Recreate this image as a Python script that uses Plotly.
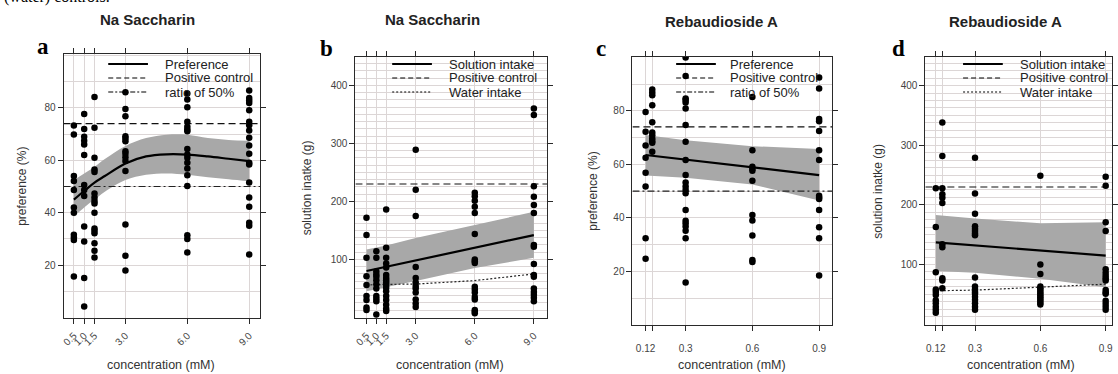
import plotly.graph_objects as go

W, H = 1118, 374
SANS = "Liberation Sans, Arial, sans-serif"
SERIF = "Liberation Serif, Times New Roman, serif"

# ---------------- data ----------------
# Panel a: Na Saccharin preference (%)
a_conc = [0.5, 1.0, 1.5, 3.0, 6.0, 9.0]
a_pref = [
    [73.3, 69.9, 54.0, 52.1, 48.7, 42.0, 40.0, 31.6, 30.5, 29.6, 15.6],
    [77.7, 72.0, 69.0, 67.5, 66.0, 62.0, 50.6, 48.7, 46.4, 34.7, 29.0, 15.1, 4.2],
    [84.2, 72.4, 61.0, 56.5, 55.5, 47.3, 45.8, 44.5, 43.5, 40.0, 34.0, 33.1, 32.2, 28.3, 25.5, 22.9],
    [86.0, 79.6, 76.8, 69.2, 68.3, 67.3, 63.5, 62.5, 61.2, 59.7, 55.9, 35.5, 23.6, 17.9],
    [85.5, 83.2, 80.3, 74.7, 72.8, 71.8, 71.1, 64.3, 62.2, 61.0, 59.1, 56.9, 54.3, 50.2, 31.4, 30.0, 24.8],
    [86.7, 83.8, 82.8, 81.9, 79.1, 74.7, 73.4, 71.4, 68.6, 65.7, 62.5, 59.1, 58.4, 51.5, 45.8, 42.3, 36.2, 35.0, 24.0],
]
a_fit_x = [0.5, 1.0, 1.5, 2.0, 3.0, 4.0, 5.0, 6.0, 7.0, 8.0, 9.0]
a_fit = [45.0, 48.3, 51.5, 54.0, 58.8, 61.5, 62.3, 62.2, 61.5, 60.6, 59.7]
a_upper = [52.5, 55.0, 57.5, 60.5, 65.5, 68.5, 69.8, 69.8, 68.5, 67.8, 67.5]
a_lower = [38.5, 42.0, 45.0, 48.0, 52.5, 54.5, 55.0, 54.5, 53.5, 52.8, 52.0]
a_ticktext = ["0.5", "1.0", "1.5", "3.0", "6.0", "9.0"]

# Panel b: Na Saccharin solution intake (g)
b_conc = [0.5, 1.0, 1.5, 3.0, 6.0, 9.0]
b_intake = [
    [172, 142, 103, 71, 56, 37, 30, 17, 13],
    [114, 103, 79, 74, 70, 64, 57, 50, 37, 32, 28, 5],
    [186, 120, 103, 93, 86, 73, 68, 64, 60, 56, 51, 45, 37, 30, 22, 15, 11],
    [289, 220, 175, 87, 68, 60, 54, 50, 43, 31, 24, 18],
    [215, 209, 201, 191, 180, 144, 100, 97, 94, 53, 48, 43, 35, 31, 13, 10, 7],
    [360, 349, 226, 208, 194, 180, 125, 122, 92, 73, 70, 50, 44, 39, 34, 28],
]
b_fit_x = [0.5, 9.0]
b_fit = [80, 142]
b_band_x = [0.5, 1.5, 3.0, 6.0, 9.0]
b_upper = [117, 124, 137, 160, 182]
b_lower = [45, 52, 63, 85, 103]
b_water_x = [0.5, 1.0, 1.5, 3.0, 6.0, 9.0]
b_water = [56, 57, 57, 57.5, 63.5, 75]

# Panel c: Rebaudioside A preference (%)
c_conc = [0.12, 0.15, 0.3, 0.6, 0.9]
c_pref = [
    [79.6, 72.2, 67.0, 62.5, 56.9, 51.7, 32.4, 24.7],
    [88.0, 86.8, 85.8, 82.1, 75.7, 71.9, 70.9, 69.7, 68.7, 68.1, 64.7],
    [99.9, 93.0, 84.6, 84.0, 83.1, 80.9, 74.7, 68.4, 61.6, 56.0, 53.2, 51.7, 50.4, 49.2, 43.0,
     38.9, 38.0, 36.8, 35.2, 32.4, 15.9],
    [85.2, 65.3, 59.1, 58.3, 57.6, 53.9, 41.1, 39.0, 33.4, 24.3, 23.5],
    [92.4, 88.3, 76.9, 76.1, 72.5, 65.3, 61.6, 48.3, 47.6, 47.1, 43.0, 36.5, 32.4, 18.5],
]
c_fit_x = [0.12, 0.9]
c_fit = [63.5, 56.0]
c_band_x = [0.12, 0.3, 0.6, 0.9]
c_upper = [71.0, 69.0, 66.8, 65.7]
c_lower = [55.8, 55.0, 52.5, 46.5]
c_ticktext = ["0.12", "", "0.3", "0.6", "0.9"]

# Panel d: Rebaudioside A solution intake (g)
d_conc = [0.12, 0.15, 0.3, 0.6, 0.9]
d_intake = [
    [228, 163, 87, 58, 54, 49, 40, 35, 29, 24, 19],
    [338, 282, 228, 218, 212, 203, 134, 129, 77, 73, 60],
    [279, 219, 185, 164, 160, 156, 152, 149, 78, 63, 58, 54, 51, 46, 41, 35, 29, 24],
    [249, 100, 84, 63, 60, 57, 54, 51, 48, 45, 42, 39, 36, 33],
    [247, 232, 171, 156, 92, 86, 81, 77, 73, 57, 53, 51, 39, 34, 29, 24],
]
d_fit_x = [0.12, 0.9]
d_fit = [137, 115]
d_band_x = [0.12, 0.3, 0.6, 0.9]
d_upper = [183, 177, 169, 171]
d_lower = [89, 86, 76, 62]
d_water_x = [0.12, 0.15, 0.3, 0.6, 0.9]
d_water = [56, 56, 57, 62, 67]

pref_control = 74
intake_control = 230
ratio_50 = 50

titles = ["Na Saccharin", "Na Saccharin", "Rebaudioside A", "Rebaudioside A"]
letters = ["a", "b", "c", "d"]
ytitles = ["preference (%)", "solution inatke (g)", "preference (%)", "solution inatke (g)"]
legend_pref = ["Preference", "Positive control", "ratio of 50%"]
legend_intake = ["Solution intake", "Positive control", "Water intake"]

# ---------------- styling / layout (pixels) ----------------
GRID = "#dcd6d6"
FRAME = "#2a2a2a"
BAND = "#a8a8a8"
PC_DASH = "7px,4px"
HALF_DASH = "7px,3px,2px,3px"
WATER_DASH = "2px,2px"

# plot boxes: left, right, top, bottom (px)
boxes = [(62, 260, 54, 318), (356, 549, 57, 318), (635, 836, 57, 325), (930, 1118, 57, 325)]
xranges = [[0.0, 9.53], [-0.06, 9.67], [0.061, 0.958], [0.072, 0.929]]
yranges = [[-0.2, 100.6], [-1, 449], [0, 100.1], [-1.5, 448]]
title_pos = [(147, 20), (434, 20), (725, 21), (1011, 21)]
letter_pos = [(41, 61), (327, 63), (603, 63), (903, 63)]
ytitle_x = [20, 307, 595, 882]
xtitle_x = [160, 451, 735, 1026]
leg_line = [(107, 147, 162), (393, 433, 448), (679, 719, 731), (968, 1008, 1023)]
leg_rows = [64, 78, 92]


def px(x):
    return x / W


def py(y):
    return 1 - y / H


fig = go.Figure()


def flat(conc, vals):
    xs, ys = [], []
    for c, v in zip(conc, vals):
        xs += [c] * len(v)
        ys += list(v)
    return xs, ys


def add_panel(i, conc, vals, fit_x, fit_y, band_x, up, lo, pc, third_x, third_y, third_dash, spline):
    xa = "x" if i == 0 else f"x{i+1}"
    ya = "y" if i == 0 else f"y{i+1}"
    shape = "spline" if spline else "linear"
    xr = xranges[i]
    common = dict(xaxis=xa, yaxis=ya, showlegend=False, hoverinfo="skip")
    fig.add_trace(go.Scatter(x=band_x, y=lo, mode="lines", line=dict(width=0, shape=shape), **common))
    fig.add_trace(go.Scatter(x=band_x, y=up, mode="lines", line=dict(width=0, shape=shape),
                             fill="tonexty", fillcolor=BAND, **common))
    fig.add_trace(go.Scatter(x=[xr[0], xr[1]], y=[pc, pc], mode="lines",
                             line=dict(color="#111", width=1.2, dash=PC_DASH), **common))
    fig.add_trace(go.Scatter(x=third_x, y=third_y, mode="lines",
                             line=dict(color="#222", width=1.2, dash=third_dash), **common))
    fig.add_trace(go.Scatter(x=fit_x, y=fit_y, mode="lines",
                             line=dict(color="black", width=2.2, shape=shape), **common))
    xs, ys = flat(conc, vals)
    fig.add_trace(go.Scatter(x=xs, y=ys, mode="markers",
                             marker=dict(color="black", size=6.5, line=dict(width=0)), **common))


add_panel(0, a_conc, a_pref, a_fit_x, a_fit, a_fit_x, a_upper, a_lower, pref_control,
          xranges[0], [ratio_50, ratio_50], HALF_DASH, True)
add_panel(1, b_conc, b_intake, b_fit_x, b_fit, b_band_x, b_upper, b_lower, intake_control,
          b_water_x, b_water, WATER_DASH, False)
add_panel(2, c_conc, c_pref, c_fit_x, c_fit, c_band_x, c_upper, c_lower, pref_control,
          xranges[2], [ratio_50, ratio_50], HALF_DASH, False)
add_panel(3, d_conc, d_intake, d_fit_x, d_fit, d_band_x, d_upper, d_lower, intake_control,
          d_water_x, d_water, WATER_DASH, False)

tickvals_x = [a_conc, b_conc, c_conc, d_conc]
ticktext_x = [a_ticktext, a_ticktext, c_ticktext, c_ticktext]
tickangles = [-45, -45, 0, 0]

layout = dict(
    width=W, height=H, margin=dict(l=0, r=0, t=0, b=0),
    paper_bgcolor="white", plot_bgcolor="white",
    font=dict(family=SANS, color="#333"),
    showlegend=False,
)

for i in range(4):
    l, r, t, b = boxes[i]
    xk = "xaxis" if i == 0 else f"xaxis{i+1}"
    yk = "yaxis" if i == 0 else f"yaxis{i+1}"
    ya = "y" if i == 0 else f"y{i+1}"
    xa = "x" if i == 0 else f"x{i+1}"
    layout[xk] = dict(
        domain=[px(l), min(px(r), 1.0)], range=xranges[i], anchor=ya,
        tickmode="array", tickvals=tickvals_x[i], ticktext=ticktext_x[i], tickangle=tickangles[i],
        showgrid=True, gridcolor=GRID, gridwidth=1, zeroline=False,
        showline=True, linecolor=FRAME, linewidth=1, mirror="allticks",
        ticks="outside", ticklen=5, tickcolor=FRAME, tickwidth=1,
        tickfont=dict(size=10, color="#444", family=SANS),
        ticklabelstandoff=(2 if i < 2 else 9),
    )
    intake = i in (1, 3)
    layout[yk] = dict(
        domain=[py(b), py(t)], range=yranges[i], anchor=xa,
        tickmode="array",
        tickvals=[100, 200, 300, 400] if intake else [20, 40, 60, 80],
        showgrid=True, gridcolor=GRID, gridwidth=1, zeroline=False,
        minor=dict(tick0=0, dtick=12.5 if intake else 10, showgrid=True, gridcolor=GRID, gridwidth=1, ticks=""),
        showline=True, linecolor=FRAME, linewidth=1, mirror="allticks",
        ticks="outside", ticklen=5, tickcolor=FRAME, tickwidth=1,
        tickfont=dict(size=10, color="#444", family=SANS),
    )

fig.update_layout(**layout)

annotations = []
shapes = []
for i in range(4):
    tx, ty = title_pos[i]
    annotations.append(dict(x=px(tx), y=py(ty), xref="paper", yref="paper", text=f"<b>{titles[i]}</b>",
                            showarrow=False, xanchor="center", yanchor="middle",
                            font=dict(size=15, color="#222", family=SANS)))
    lx, ly = letter_pos[i]
    annotations.append(dict(x=px(lx), y=py(ly), xref="paper", yref="paper", text=f"<b>{letters[i]}</b>",
                            showarrow=False, xanchor="center", yanchor="bottom",
                            font=dict(size=23, color="black", family=SERIF)))
    l, r, t, b = boxes[i]
    annotations.append(dict(x=px(ytitle_x[i]), y=py((t + b) / 2), xref="paper", yref="paper",
                            text=ytitles[i], textangle=-90, showarrow=False,
                            xanchor="center", yanchor="middle",
                            font=dict(size=12, color="#333", family=SANS)))
    annotations.append(dict(x=px(xtitle_x[i]), y=py(365), xref="paper", yref="paper",
                            text="concentration (mM)", showarrow=False,
                            xanchor="center", yanchor="middle",
                            font=dict(size=12.5, color="#333", family=SANS)))
    labels = legend_intake if i in (1, 3) else legend_pref
    dashes = ["solid", "5px,3px", WATER_DASH if i in (1, 3) else "5px,2px,2px,2px"]
    widths = [2.2, 1.2, 1.2]
    x0, x1, xt = leg_line[i]
    for k in range(3):
        yy = leg_rows[k]
        shapes.append(dict(type="line", xref="paper", yref="paper", x0=px(x0), x1=px(x1),
                           y0=py(yy), y1=py(yy), line=dict(color="black", width=widths[k], dash=dashes[k])))
        annotations.append(dict(x=px(xt), y=py(yy), xref="paper", yref="paper", text=labels[k],
                                showarrow=False, xanchor="left", yanchor="middle",
                                font=dict(size=13, color="#222", family=SANS)))

# cropped caption text at the very top of the image
annotations.append(dict(x=0, y=py(8), xref="paper", yref="paper", text="(water) controls.",
                        showarrow=False, xanchor="left", yanchor="bottom",
                        font=dict(size=16, color="black", family=SERIF)))

fig.update_layout(annotations=annotations, shapes=shapes)
fig.write_html("out.html")
